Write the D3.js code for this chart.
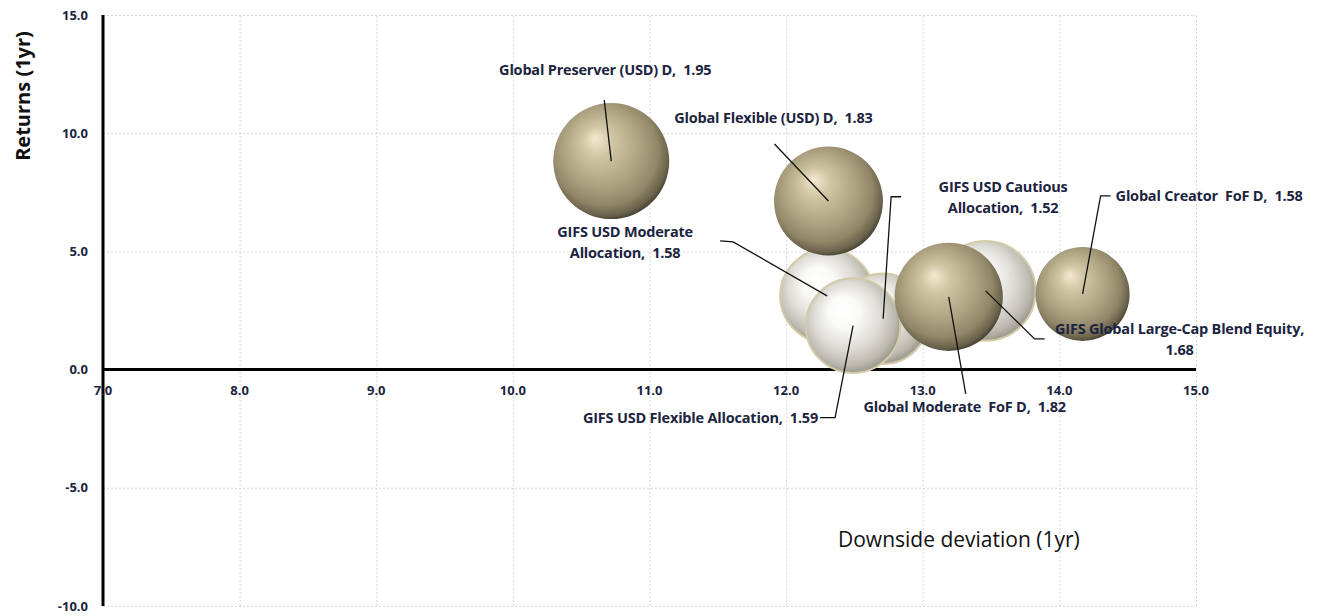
<!DOCTYPE html>
<html>
<head>
<meta charset="utf-8">
<script src="https://cdn.jsdelivr.net/npm/d3@7"></script>
<style>
  body { margin: 0; background: #fff; }
  svg { display: block; font-family: "Open Sans", Lato, sans-serif; }
  .tick-label { font-size: 13px; font-weight: bold; fill: #1c2440; }
  .bubble-label { font-size: 14.5px; font-weight: bold; fill: #1c2440; white-space: pre; letter-spacing: -0.2px; }
  .grid line { stroke: #d6d6d6; stroke-dasharray: 2,2; }
  .leader { fill: none; stroke: #111; stroke-width: 1.3; }
</style>
</head>
<body>
<div id="chart"></div>
<script>
// --- Data ---
const funds = [
  "Global Preserver (USD) D",
  "Global Flexible (USD) D",
  "GIFS USD Moderate Allocation",
  "GIFS USD Cautious Allocation",
  "GIFS Global Large-Cap Blend Equity",
  "GIFS USD Flexible Allocation",
  "Global Moderate  FoF D",
  "Global Creator  FoF D"
];
const downside = [10.72, 12.31, 12.30, 12.71, 13.46, 12.49, 13.19, 14.17];
const returns1y = [8.82, 7.13, 3.12, 2.15, 3.33, 1.86, 3.08, 3.20];
const bubbleSize = [1.95, 1.83, 1.58, 1.52, 1.68, 1.59, 1.82, 1.58];
const xTicks = [7, 8, 9, 10, 11, 12, 13, 14, 15];
const yTicks = [-10, -5, 0, 5, 10, 15];

// --- Styling / layout (not data) ---
const family = ["gold", "gold", "white", "white", "white", "white", "gold", "gold"];
// draw order, back to front
const drawOrder = [2, 3, 4, 5, 6, 7, 0, 1];
// label placement relative to bubble centre (px)
const labelLayout = [
  { lines: ["Global Preserver (USD) D,  1.95"], dx: -6, dy: -91, anchor: "middle", leader: [[-7, -61], [0, 0]] },
  { lines: ["Global Flexible (USD) D,  1.83"], dx: -55, dy: -83, anchor: "middle", leader: [[-54, -57], [0, 0]] },
  { lines: ["GIFS USD Moderate", "Allocation,  1.58"], dx: -202, dy: -64, anchor: "middle", leader: [[-107, -55], [-94, -54], [0, 0]] },
  { lines: ["GIFS USD Cautious", "Allocation,  1.52"], dx: 120, dy: -132, anchor: "middle", leader: [[18, -122], [8, -122], [0, 0]] },
  { lines: ["GIFS Global Large-Cap Blend Equity,", "1.68"], dx: 194, dy: 38, anchor: "middle", leader: [[0, 0], [49, 48], [59, 48]] },
  { lines: ["GIFS USD Flexible Allocation,  1.59"], dx: -35, dy: 92, anchor: "end", leader: [[-33, 92], [-18, 92], [0, 0]] },
  { lines: ["Global Moderate  FoF D,  1.82"], dx: 16, dy: 110, anchor: "middle", leader: [[0, 0], [17, 97]] },
  { lines: ["Global Creator  FoF D,  1.58"], dx: 33, dy: -98, anchor: "start", leader: [[28, -98], [18, -98], [0, 0]] }
];

const W = 1322, H = 616;
const plot = { left: 103, right: 1196, top: 15, bottom: 606 };

const svg = d3.select("#chart").append("svg")
  .attr("width", W).attr("height", H);

const x = d3.scaleLinear().domain([7, 15]).range([plot.left, plot.right]);
const y = d3.scaleLinear().domain([-10, 15]).range([plot.bottom, plot.top]);
const r = d3.scaleLinear().domain([0, 1.95]).range([0, 58]);

// --- Gradients ---
const defs = svg.append("defs");
const gold = defs.append("radialGradient").attr("id", "g-gold")
  .attr("cx", "0.46").attr("cy", "0.44").attr("r", "0.58")
  .attr("fx", "0.36").attr("fy", "0.3");
[[0, "#f3ead0"], [0.22, "#d2c7a5"], [0.55, "#b0a583"], [0.8, "#918668"], [0.93, "#6a624b"], [1, "#3f3a2c"]]
  .forEach(([o, c]) => gold.append("stop").attr("offset", o).attr("stop-color", c));
const white = defs.append("radialGradient").attr("id", "g-white")
  .attr("cx", "0.47").attr("cy", "0.45").attr("r", "0.58")
  .attr("fx", "0.38").attr("fy", "0.32");
[[0, "#ffffff"], [0.28, "#fafaf8"], [0.6, "#dedcd6"], [0.85, "#bab8ae"], [1, "#8f8c7e"]]
  .forEach(([o, c]) => white.append("stop").attr("offset", o).attr("stop-color", c));
defs.append("filter").attr("id", "soft")
  .append("feGaussianBlur").attr("stdDeviation", 0.7);

// --- Grid ---
svg.append("g").attr("class", "grid")
  .attr("transform", `translate(0,${plot.bottom})`)
  .call(d3.axisBottom(x).tickValues(xTicks).tickSize(-(plot.bottom - plot.top)).tickFormat(""))
  .call(g => g.select(".domain").remove());
svg.append("g").attr("class", "grid")
  .attr("transform", `translate(${plot.left},0)`)
  .call(d3.axisLeft(y).tickValues(yTicks).tickSize(-(plot.right - plot.left)).tickFormat(""))
  .call(g => g.select(".domain").remove());

// --- Axis lines ---
svg.append("line").attr("x1", x(7)).attr("x2", x(7)).attr("y1", plot.top).attr("y2", plot.bottom)
  .attr("stroke", "#000").attr("stroke-width", 3);
svg.append("line").attr("x1", x(7)).attr("x2", x(15)).attr("y1", y(0)).attr("y2", y(0))
  .attr("stroke", "#000").attr("stroke-width", 3);

// tick labels
svg.selectAll(".xt").data(xTicks).enter().append("text")
  .attr("class", "tick-label").attr("x", d => x(d)).attr("y", y(0) + 25)
  .attr("text-anchor", "middle").text(d => d.toFixed(1));
svg.selectAll(".yt").data(yTicks).enter().append("text")
  .attr("class", "tick-label").attr("x", plot.left - 15).attr("y", d => y(d) + 4.5)
  .attr("text-anchor", "end").text(d => d.toFixed(1));

// axis titles
svg.append("text").attr("transform", "translate(30,96) rotate(-90)")
  .attr("text-anchor", "middle").style("font-size", "20px").style("font-weight", "bold")
  .attr("fill", "#111").text("Returns (1yr)");
svg.append("text").attr("x", 838).attr("y", 547)
  .style("font-size", "21px").attr("fill", "#111").text("Downside deviation (1yr)");

// --- Bubbles ---
svg.append("g").selectAll("circle").data(drawOrder).enter().append("circle")
  .attr("cx", i => x(downside[i]))
  .attr("cy", i => y(returns1y[i]))
  .attr("r", i => r(bubbleSize[i]))
  .attr("fill", i => family[i] === "gold" ? "url(#g-gold)" : "url(#g-white)")
  .attr("stroke", i => family[i] === "gold" ? "none" : "#d3cba9")
  .attr("stroke-width", 2)
  .attr("filter", "url(#soft)");

// --- Leader lines and labels ---
const line = d3.line();
funds.forEach((f, i) => {
  const cx = x(downside[i]), cy = y(returns1y[i]);
  const L = labelLayout[i];
  svg.append("path").attr("class", "leader")
    .attr("d", line(L.leader.map(([a, b]) => [cx + a, cy + b])));
  const t = svg.append("text").attr("class", "bubble-label")
    .attr("text-anchor", L.anchor)
    .attr("x", cx + L.dx).attr("y", cy + L.dy + 5);
  L.lines.forEach((s, k) => {
    t.append("tspan").attr("x", cx + L.dx).attr("dy", k === 0 ? 0 : 21).text(s);
  });
});
</script>
</body>
</html>
